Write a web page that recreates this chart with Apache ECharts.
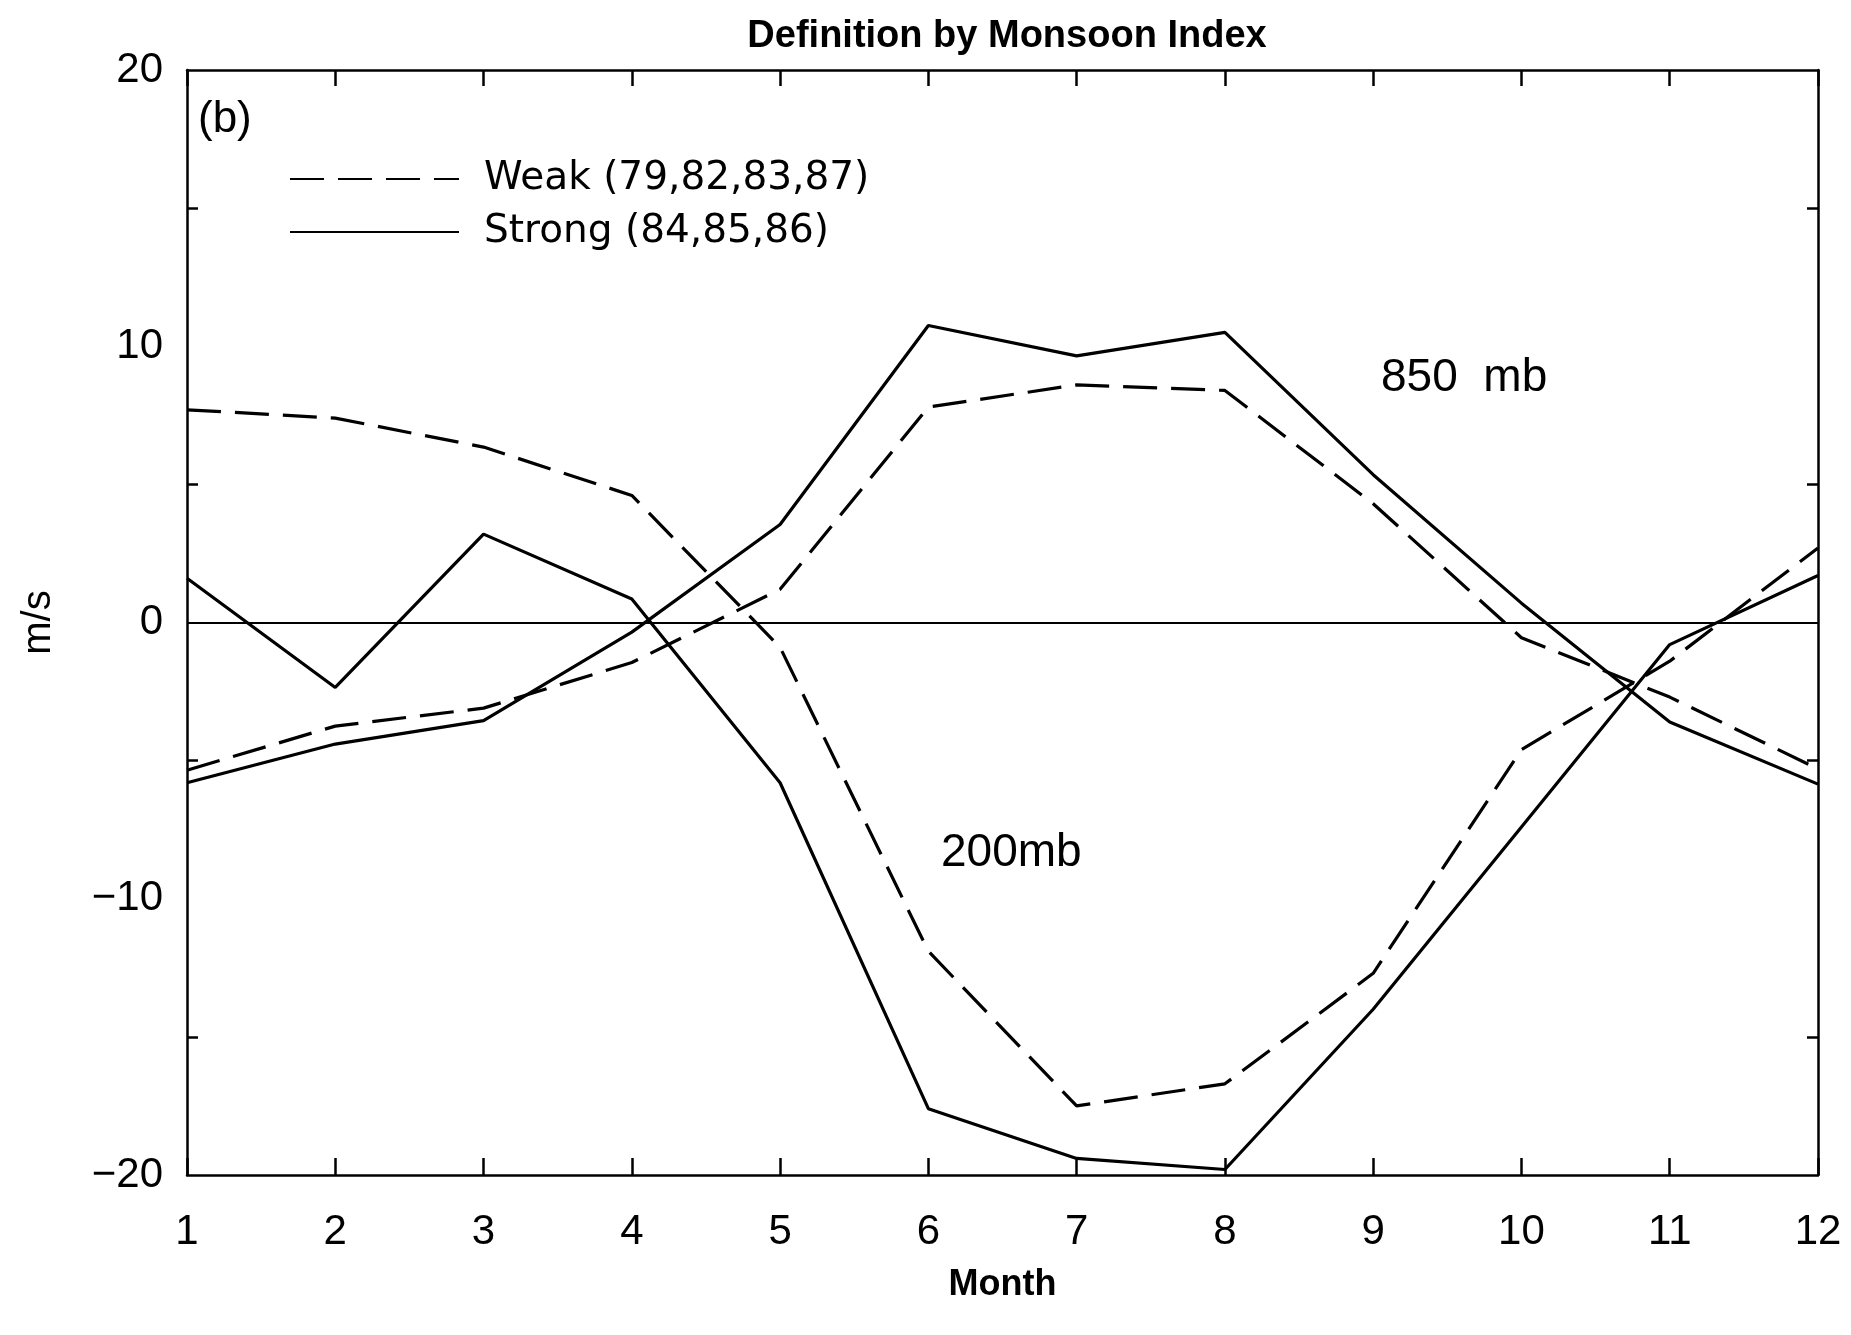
<!DOCTYPE html>
<html>
<head>
<meta charset="utf-8">
<script src="https://cdn.jsdelivr.net/npm/echarts@6/dist/echarts.min.js"></script>
<style>
  html, body { margin: 0; padding: 0; background: #fff; }
  #chart { width: 1851px; height: 1335px; }
</style>
</head>
<body>
<div id="chart"></div>
<script>
// ---- data ----
const months = ['1','2','3','4','5','6','7','8','9','10','11','12'];
const weak200   = [7.7, 7.4, 6.35, 4.6, -0.9, -11.9, -17.5, -16.7, -12.7, -4.6, -1.4, 2.7];
const strong200 = [1.6, -2.35, 3.2, 0.85, -5.8, -17.6, -19.4, -19.8, -14.0, -7.4, -0.8, 1.7];
const weak850   = [-5.35, -3.75, -3.1, -1.45, 1.2, 7.8, 8.6, 8.4, 4.3, -0.55, -2.7, -5.3];
const strong850 = [-5.8, -4.4, -3.55, -0.35, 3.55, 10.75, 9.65, 10.5, 5.35, 0.7, -3.6, -5.85];
const weakName = 'Weak (79,82,83,87)';
const strongName = 'Strong (84,85,86)';
const yMin = -20, yMax = 20, yStep = 10;

const chart = echarts.init(document.getElementById('chart'));
const BLACK = '#000';
const FONT = 'Liberation Sans';
const dash = [34, 14];

function lineSeries(name, data, dashed) {
  return {
    name: name, type: 'line', data: data, symbol: 'none', showSymbol: false,
    lineStyle: { color: BLACK, width: 3.2, type: dashed ? dash : 'solid' },
    itemStyle: { color: BLACK },
    animation: false, silent: true
  };
}

const series = [
  lineSeries(weakName, weak850, true),
  lineSeries(strongName, strong850, false),
  lineSeries(weakName, weak200, true),
  lineSeries(strongName, strong200, false)
];
series[0].markLine = {
  silent: true, symbol: 'none', label: { show: false },
  lineStyle: { color: BLACK, width: 2, type: 'solid' },
  data: [{ yAxis: 0 }]
};

chart.setOption({
  backgroundColor: '#fff',
  animation: false,
  title: {
    text: 'Definition by Monsoon Index',
    left: 1002, top: 13, textAlign: 'center',
    textStyle: { fontFamily: FONT, fontSize: 38, fontWeight: 'bold', color: BLACK }
  },
  legend: {
    orient: 'vertical', left: 289, top: 159,
    itemWidth: 169, itemHeight: 14, itemGap: 13, padding: 0,
    data: [weakName, strongName],
    itemStyle: { opacity: 0 },
    textStyle: { fontFamily: 'DejaVu Sans', fontSize: 39, color: BLACK, lineHeight: 40, padding: [0, 0, 0, 20] }
  },
  grid: { left: 187, right: 33, top: 70, bottom: 160 },
  xAxis: [
    {
      type: 'category', data: months, boundaryGap: false, position: 'bottom',
      name: 'Month', nameLocation: 'middle', nameGap: 92,
      nameTextStyle: { fontFamily: FONT, fontSize: 36, fontWeight: 'bold', color: BLACK },
      axisLine: { onZero: false, lineStyle: { color: BLACK, width: 2.5 } },
      axisTick: { inside: true, length: 17, alignWithLabel: true, lineStyle: { color: BLACK, width: 2.5 } },
      axisLabel: { margin: 36, fontFamily: FONT, fontSize: 42, color: BLACK },
      splitLine: { show: false }
    },
    {
      type: 'category', data: months, boundaryGap: false, position: 'top',
      axisLine: { onZero: false, lineStyle: { color: BLACK, width: 2.5 } },
      axisTick: { inside: true, length: 16, lineStyle: { color: BLACK, width: 2.5 } },
      axisLabel: { show: false },
      splitLine: { show: false }
    }
  ],
  yAxis: [
    {
      type: 'value', min: yMin, max: yMax, interval: yStep, position: 'left',
      name: 'm/s', nameLocation: 'middle', nameGap: 128, nameRotate: 90,
      nameTextStyle: { fontFamily: FONT, fontSize: 40, color: BLACK },
      axisLine: { show: true, onZero: false, lineStyle: { color: BLACK, width: 2.5 } },
      axisTick: { inside: true, length: 20, lineStyle: { color: BLACK, width: 2.5 } },
      minorTick: { show: true, splitNumber: 2, length: 11, lineStyle: { color: BLACK, width: 2.5 } },
      axisLabel: {
        margin: 24, fontFamily: FONT, fontSize: 42, color: BLACK,
        formatter: v => String(v).replace('-', '\u2212')
      },
      splitLine: { show: false }
    },
    {
      type: 'value', min: yMin, max: yMax, interval: yStep, position: 'right',
      axisLine: { show: true, onZero: false, lineStyle: { color: BLACK, width: 2.5 } },
      axisTick: { inside: true, length: 20, lineStyle: { color: BLACK, width: 2.5 } },
      minorTick: { show: true, splitNumber: 2, length: 11, lineStyle: { color: BLACK, width: 2.5 } },
      axisLabel: { show: false },
      splitLine: { show: false }
    }
  ],
  graphic: [
    { type: 'text', left: 198, top: 98, style: { text: '(b)', font: '44px "Liberation Sans"', fill: BLACK } },
    { type: 'text', left: 1381, top: 355, style: { text: '850  mb', font: '46px "Liberation Sans"', fill: BLACK } },
    { type: 'text', left: 941, top: 830, style: { text: '200mb', font: '46px "Liberation Sans"', fill: BLACK } }
  ],
  series: series
});
</script>
</body>
</html>
